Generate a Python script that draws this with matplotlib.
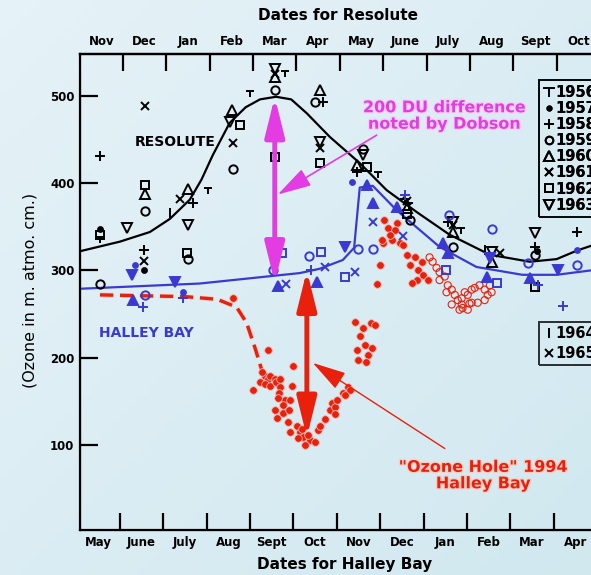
import matplotlib.pyplot as plt
import matplotlib.patheffects as pe
from matplotlib.path import Path
from matplotlib.lines import Line2D
import numpy as np

# x axis unit: one month, bottom ticks (Halley Bay month ends) at 1..11
halley_months = ['May', 'June', 'July', 'Aug', 'Sept', 'Oct', 'Nov', 'Dec', 'Jan', 'Feb', 'Mar', 'Apr']
resolute_months = ['Nov', 'Dec', 'Jan', 'Feb', 'Mar', 'Apr', 'May', 'June', 'July', 'Aug', 'Sept', 'Oct']
ozone_ticks = [100, 200, 300, 400, 500]

# mean curves (month, ozone)
resolute_curve_x = [0.08, 1.0, 1.69, 2.15, 2.61, 2.88, 3.14, 3.53, 3.90, 4.23, 4.60, 4.95, 5.31, 5.84,
                    6.53, 7.15, 7.84, 8.60, 9.53, 10.45, 11.07, 11.55, 11.85]
resolute_curve_y = [322, 333, 344, 359, 381, 404, 432, 469, 487, 496, 499, 496, 480, 453,
                    423, 392, 367, 341, 318, 310, 313, 323, 328]
halley_curve_x = [0.08, 2.84, 5.15, 5.61, 6.14, 6.40, 6.53, 6.83, 7.38, 8.37, 9.22, 10.28, 11.07, 11.85]
halley_curve_y = [279, 285, 297, 302, 312, 326, 395, 397, 369, 327, 304, 295, 295, 300]
hole_line_x = [0.54, 1.5, 2.5, 3.24, 3.69, 3.92, 4.11, 4.27, 4.32]
hole_line_y = [272, 271, 270, 267, 258, 240, 212, 186, 178]

# Resolute observations (black), by year
res_1956 = [(0.54, 336), (3.03, 392), (3.99, 503), (4.80, 526), (6.94, 411), (8.86, 346), (7.66, 375)]
res_1957 = [(0.54, 348), (1.55, 300), (10.62, 322)]
res_1958 = [(0.54, 431), (1.55, 323), (2.68, 377), (5.68, 493), (6.46, 413), (8.56, 355), (10.58, 327),
            (11.55, 344), (7.57, 382)]
res_1959 = [(0.54, 284), (1.58, 368), (2.57, 313), (3.60, 416), (4.57, 507), (5.49, 493), (6.60, 439),
            (7.68, 358), (8.67, 327), (10.58, 318)]
res_1960 = [(1.58, 388), (2.57, 393), (3.58, 484), (4.57, 463), (4.57, 522), (5.61, 507), (6.46, 421),
            (8.67, 344), (9.57, 310), (7.61, 372)]
res_1961 = [(1.58, 488), (1.55, 311), (2.38, 382), (3.60, 446), (4.57, 525), (5.61, 440), (8.67, 352),
            (9.76, 320), (7.61, 380)]
res_1962 = [(0.54, 341), (1.58, 398), (2.54, 320), (3.76, 467), (4.57, 430), (5.61, 423), (6.69, 419),
            (10.56, 281), (7.61, 365)]
res_1963 = [(1.16, 349), (2.57, 352), (3.53, 470), (4.57, 531), (5.61, 447), (6.60, 432), (9.57, 321),
            (10.58, 343), (8.67, 356)]
res_1964 = [(2.15, 366), (9.41, 323)]

# Halley Bay observations (blue), by year
hal_1957 = [(1.35, 306), (2.45, 275), (6.35, 401), (11.55, 323)]
hal_1958 = [(1.53, 258), (2.45, 268), (11.21, 259), (7.57, 387), (10.63, 283), (5.40, 300)]
hal_1959 = [(1.58, 272), (4.53, 301), (5.36, 316), (6.48, 324), (6.83, 324), (8.58, 363), (9.59, 348),
            (10.40, 308), (11.53, 306)]
hal_1960 = [(1.30, 266), (4.64, 282), (5.54, 287), (6.69, 398), (6.83, 377), (7.38, 373), (8.44, 332),
            (8.56, 320), (9.46, 293), (10.45, 291)]
hal_1961 = [(4.84, 284), (5.72, 304), (6.41, 298), (6.83, 355), (7.52, 339)]
hal_1962 = [(4.73, 320), (5.63, 321), (6.18, 293), (8.53, 301), (9.69, 286)]
hal_1963 = [(1.28, 295), (2.27, 287), (6.18, 327), (9.53, 314), (11.09, 300)]

# 1994 Halley Bay daily values
hole_x = [3.60, 4.41, 4.34, 4.41, 4.46, 4.57, 4.23, 4.34, 4.46, 4.60, 4.69, 4.27, 4.06, 4.99, 4.97,
          4.69, 4.66, 4.80, 4.64, 4.92, 4.76, 4.57, 4.62, 4.76, 4.90,
          4.87, 5.08, 4.92, 5.15, 5.22, 5.38, 5.49, 5.26, 5.33, 5.10, 5.20,
          5.56, 5.61, 5.72, 5.84, 5.88, 5.95, 6.00, 6.14, 6.25, 6.30, 6.18, 5.95,
          6.41, 6.60, 6.53, 6.65, 6.46, 6.71, 6.81, 6.78, 6.88, 6.50, 6.68,
          6.99, 6.92, 7.06, 7.08, 7.18, 7.38, 7.27, 7.04, 7.34, 7.22, 7.45, 7.52, 7.61, 7.68,
          7.80, 7.87, 7.96, 7.98, 7.84, 7.73, 8.10]
hole_y = [268, 209, 179, 176, 179, 176, 172, 170, 168, 172, 176, 184, 163, 190, 168,
          166, 160, 152, 154, 152, 146, 140, 131, 137, 140,
          126, 122, 115, 115, 109, 106, 104, 100, 112, 108, 118,
          117, 122, 130, 140, 148, 144, 152, 160, 166, 163, 157, 136,
          241, 234, 225, 215, 209, 203, 211, 240, 238, 197, 195,
          306, 285, 332, 358, 349, 354, 335, 335, 346, 341, 332, 329, 318, 306,
          315, 301, 310, 295, 289, 286, 289]
late_x = [8.14, 8.21, 8.30, 8.37, 8.49, 8.37, 8.56, 8.65, 8.72, 8.79, 8.88, 8.95, 9.02, 9.11, 9.18,
          9.29, 9.41, 9.48, 9.41, 9.25, 9.11, 8.88, 9.02, 8.83, 8.65, 8.53, 9.53, 9.57, 9.06, 8.90]
late_y = [315, 310, 303, 298, 293, 289, 283, 278, 272, 266, 268, 275, 272, 278, 280,
          283, 278, 272, 266, 263, 263, 261, 255, 255, 261, 275, 283, 275, 262, 257]

BLUE = '#3a3ad2'
RED = '#e8200c'
MAGENTA = '#e23ce2'

tick_marker = Path([(-1, 0.6), (1, 0.6), (0, 0.6), (0, -1)],
                   [Path.MOVETO, Path.LINETO, Path.MOVETO, Path.LINETO])
symbols = {
    '1956': dict(marker=tick_marker, ms=6),
    '1957': dict(marker='o', ms=3.5, filled=True),
    '1958': dict(marker='+', ms=7),
    '1959': dict(marker='o', ms=6),
    '1960': dict(marker='^', ms=7),
    '1961': dict(marker='x', ms=6),
    '1962': dict(marker='s', ms=6),
    '1963': dict(marker='v', ms=7),
    '1964': dict(marker='|', ms=7),
    '1965': dict(marker='x', ms=6),
}


def draw(ax, pts, year, color, filled=False):
    s = symbols[year]
    xs = [p[0] for p in pts]
    ys = [p[1] for p in pts]
    fill = color if (filled or s.get('filled')) else 'none'
    ax.plot(xs, ys, ls='none', marker=s['marker'], ms=s['ms'], mec=color, mfc=fill,
            mew=1.4, color=color, zorder=4)


fig = plt.figure(figsize=(5.91, 5.75), dpi=100)

# soft blue background
bg = fig.add_axes([0, 0, 1, 1], zorder=-10)
gx, gy = np.meshgrid(np.linspace(0, 1, 64), np.linspace(0, 1, 64))
g = 0.5 * gx + 0.5 * gy
c0 = np.array([0.90, 0.95, 0.97])
c1 = np.array([0.82, 0.91, 0.94])
bg.imshow(c0 + g[..., None] * (c1 - c0), aspect='auto', extent=(0, 1, 0, 1))
bg.axis('off')

ax = fig.add_axes([80 / 591, 45 / 575, 517 / 591, 476 / 575])
ax.patch.set_alpha(0)
ax.set_xlim(0.08, 12.0)
ax.set_ylim(2.6, 548)

ax.plot(resolute_curve_x, resolute_curve_y, color='black', lw=1.6, zorder=3)
ax.plot(halley_curve_x, halley_curve_y, color=BLUE, lw=1.6, zorder=3)
ax.plot(hole_line_x, hole_line_y, color=RED, lw=2.4, dashes=(4, 2), zorder=3,
        path_effects=[pe.withStroke(linewidth=3.4, foreground='#f6c8c0')])

ax.scatter(late_x, late_y, s=26, facecolor='none', edgecolor=RED, lw=0.8, zorder=3)
ax.scatter(hole_x, hole_y, s=30, color=RED, edgecolor='#f4b8b0', lw=0.6, zorder=3)

for yr, pts in [('1956', res_1956), ('1957', res_1957), ('1958', res_1958), ('1959', res_1959),
                ('1960', res_1960), ('1961', res_1961), ('1962', res_1962), ('1963', res_1963),
                ('1964', res_1964)]:
    draw(ax, pts, yr, 'black')
for yr, pts in [('1957', hal_1957), ('1958', hal_1958), ('1959', hal_1959), ('1961', hal_1961),
                ('1962', hal_1962)]:
    draw(ax, pts, yr, BLUE)
draw(ax, hal_1960, '1960', BLUE, filled=True)
draw(ax, hal_1963, '1963', BLUE, filled=True)

big_head = 'head_length=1.7,head_width=0.42'
thin_head = 'head_length=1.5,head_width=0.42'

# 200 DU difference arrow (Resolute peak to Halley Bay)
ax.annotate('', xy=(4.57, 499), xytext=(4.57, 286),
            arrowprops=dict(arrowstyle='<|-|>,' + big_head, color=MAGENTA,
                            lw=3.5, shrinkA=0, shrinkB=0, mutation_scale=14), zorder=5)
ax.annotate('', xy=(4.64, 387), xytext=(6.92, 455),
            arrowprops=dict(arrowstyle='-|>,' + thin_head, color=MAGENTA,
                            lw=1.2, shrinkA=0, shrinkB=0, mutation_scale=14), zorder=5)
ax.text(8.49, 477, '200 DU difference\nnoted by Dobson', color=MAGENTA, fontsize=11.5,
        fontweight='bold', ha='center', va='center', linespacing=1.12, zorder=6,
        path_effects=[pe.withStroke(linewidth=2, foreground='#f4d0f4')])

# ozone hole arrow
ax.annotate('', xy=(5.31, 300), xytext=(5.31, 109),
            arrowprops=dict(arrowstyle='<|-|>,' + big_head, color=RED,
                            lw=3.5, shrinkA=0, shrinkB=0, mutation_scale=14), zorder=5)
ax.annotate('', xy=(5.45, 194), xytext=(8.49, 96),
            arrowprops=dict(arrowstyle='-|>,' + thin_head, color=RED,
                            lw=1.0, shrinkA=0, shrinkB=0, mutation_scale=14), zorder=5)
ax.text(9.38, 65, '"Ozone Hole" 1994\nHalley Bay', color=RED, fontsize=11.5,
        fontweight='bold', ha='center', va='center', linespacing=1.12, zorder=6,
        path_effects=[pe.withStroke(linewidth=2, foreground='#f6d0c8')])

ax.text(2.27, 447, 'RESOLUTE', fontsize=10, fontweight='bold', ha='center', va='center')
ax.text(1.62, 228, 'HALLEY BAY', fontsize=10, fontweight='bold', ha='center', va='center',
        color=BLUE)

# axes styling
for side in ['left', 'bottom', 'top']:
    ax.spines[side].set_linewidth(1.6)
ax.spines['right'].set_visible(False)
ax.set_yticks(ozone_ticks)
ax.set_yticklabels([str(v) for v in ozone_ticks], fontsize=8.5, fontweight='bold')
ax.tick_params(axis='y', direction='in', length=13, width=1.6, pad=4)
ax.set_xticks(np.arange(1, 12))
ax.set_xticklabels([])
ax.set_xticks(np.arange(1, 13) - 0.5, minor=True)
ax.set_xticklabels(halley_months, minor=True, fontsize=8.5, fontweight='bold')
ax.tick_params(axis='x', which='major', direction='in', length=12, width=1.6)
ax.tick_params(axis='x', which='minor', length=0, pad=4)

top = ax.twiny()
top.set_xlim(ax.get_xlim())
top.spines['right'].set_visible(False)
top.spines['top'].set_linewidth(1.6)
top.set_xticks(np.arange(1, 12) + 0.07)
top.set_xticklabels([])
top.set_xticks(np.arange(1, 13) - 0.43, minor=True)
top.set_xticklabels(resolute_months, minor=True, fontsize=8.5, fontweight='bold')
top.tick_params(axis='x', which='major', direction='in', length=12, width=1.6)
top.tick_params(axis='x', which='minor', length=0, pad=4)


# legends (the box runs past the right edge, as in the original)
def handle(year):
    s = symbols[year]
    fill = 'black' if s.get('filled') else 'none'
    if year == '1956':
        return Line2D([], [], ls='none', marker=s['marker'], ms=8, mec='black', mew=1.2)
    return Line2D([], [], ls='none', marker=s['marker'], ms=s['ms'] - 0.5, mec='black',
                  mfc=fill, mew=1.4)


years1 = ['1956', '1957', '1958', '1959', '1960', '1961', '1962', '1963']
years2 = ['1964', '1965']
leg_kw = dict(frameon=True, fancybox=False, edgecolor='black', facecolor='none',
              handlelength=0.7, handletextpad=0.1, borderpad=0.3, borderaxespad=0,
              prop=dict(size=10.5, weight='bold'))
leg1 = ax.legend([handle(y) for y in years1], years1, loc='upper left',
                 bbox_to_anchor=(0.888, 0.945), labelspacing=0.08, **leg_kw)
leg1.get_frame().set_linewidth(1.4)
ax.add_artist(leg1)
leg2 = top.legend([handle(y) for y in years2], years2, loc='upper left',
                  bbox_to_anchor=(0.888, 0.437), labelspacing=0.3, **leg_kw)
leg2.get_frame().set_linewidth(1.4)

fig.text(338 / 591, 1 - 15 / 575, 'Dates for Resolute', fontsize=11, fontweight='bold',
         ha='center', va='center')
fig.text(345 / 591, 1 - 565 / 575, 'Dates for Halley Bay', fontsize=11, fontweight='bold',
         ha='center', va='center')
fig.text(30 / 591, 1 - 290 / 575, '(Ozone in m. atmo. cm.)', fontsize=11.5, rotation=90,
         ha='center', va='center')

fig.savefig('out.png', dpi=100)
